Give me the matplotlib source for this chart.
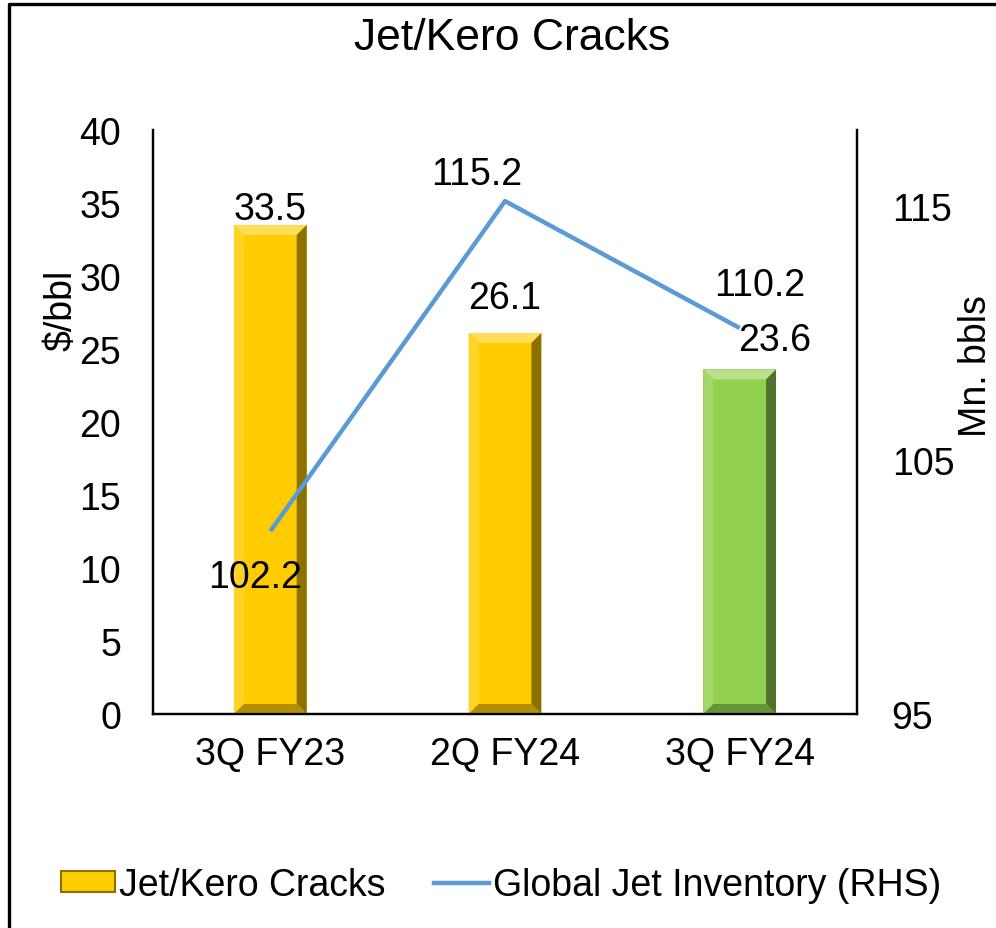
#!/usr/bin/env python3

import matplotlib
matplotlib.use("Agg")
import matplotlib.pyplot as plt
from matplotlib.patches import Polygon, Patch
from matplotlib.lines import Line2D
from matplotlib.transforms import IdentityTransform
import numpy as np

plt.rcParams['font.family'] = ['Liberation Sans', 'DejaVu Sans']

quarters = ["3Q FY23", "2Q FY24", "3Q FY24"]
cracks = [33.5, 26.1, 23.6]          # $/bbl, left axis
inventory = [102.2, 115.2, 110.2]    # Mn. bbls, right axis

# Colour palette (Excel-like)
gold = "#FFCC00"
green = "#92D050"
blue = "#5B9BD5"
bar_colors = [gold, gold, green]

# hand-placed label offsets in pixels (centre of text relative to anchor)
bar_label_offsets = [(0, 16), (0, 35), (35, 29)]
line_label_offsets = [(-15, -46), (-28, 27), (20, 43)]

FS = 27
PX = 0.72  # pixel -> point at dpi 100


def shade(c, f):
  """Lighten (f > 0) or darken (f < 0) a colour."""
  r = np.array(matplotlib.colors.to_rgb(c))
  if f > 0:
    return tuple(r + (1 - r) * f)
  return tuple(r * (1 + f))


def bevel(ax, rect, color, b=10):
  """Fake Excel bevel on a bar: four trapezoids along the edges."""
  (x0, y0), (x1, y1) = ax.transData.transform(
      [(rect.get_x(), rect.get_y()),
       (rect.get_x() + rect.get_width(), rect.get_y() + rect.get_height())])
  faces = [
      ([(x0, y1), (x1, y1), (x1 - b, y1 - b), (x0 + b, y1 - b)], 0.35),
      ([(x0, y0), (x0, y1), (x0 + b, y1 - b), (x0 + b, y0 + b)], 0.15),
      ([(x1, y0), (x1, y1), (x1 - b, y1 - b), (x1 - b, y0 + b)], -0.45),
      ([(x0, y0), (x1, y0), (x1 - b, y0 + b), (x0 + b, y0 + b)], -0.3),
  ]
  for pts, f in faces:
    ax.add_patch(Polygon(pts, closed=True, facecolor=shade(color, f),
                         edgecolor='none', transform=IdentityTransform(),
                         zorder=3))


fig = plt.figure(figsize=(9.96, 9.29), dpi=100)
ax = fig.add_axes([153 / 996, 1 - 715 / 929, 704 / 996, 584 / 929])
ax2 = ax.twinx()

x = np.arange(len(quarters))
bars = ax.bar(x, cracks, 0.31, color=bar_colors, zorder=2)
ax.set_xlim(-0.5, len(quarters) - 0.5)
ax.set_ylim(0, 40)
ax.set_yticks(range(0, 41, 5))
ax.set_xticks(x)
ax.set_xticklabels(quarters)

for rect, c in zip(bars, bar_colors):
  bevel(ax, rect, c)

for rect, v, (dx, dy) in zip(bars, cracks, bar_label_offsets):
  ax.annotate('{:.1f}'.format(v),
              xy=(rect.get_x() + rect.get_width() / 2, rect.get_height()),
              xytext=(dx * PX, dy * PX), textcoords="offset points",
              ha='center', va='center', fontsize=FS, zorder=5)

ax2.plot(x, inventory, color=blue, lw=3.2, solid_capstyle='butt')
ax2.set_ylim(95, 118)
ax2.set_yticks([95, 105, 115])
for xi, v, (dx, dy) in zip(x, inventory, line_label_offsets):
  ax2.annotate('{:.1f}'.format(v), xy=(xi, v),
               xytext=(dx * PX, dy * PX), textcoords="offset points",
               ha='center', va='center', fontsize=FS)

for a in (ax, ax2):
  a.tick_params(length=0, labelsize=FS)
  a.spines['top'].set_visible(False)
  for s in ('left', 'right', 'bottom'):
    a.spines[s].set_linewidth(1.6)
ax.tick_params(axis='y', pad=23)
ax.tick_params(axis='x', pad=16)
ax2.tick_params(axis='y', pad=25)

fig.text(62 / 996, 1 - 310 / 929, '$/bbl', rotation=90, fontsize=FS,
         ha='center', va='center')
fig.text(976 / 996, 1 - 366 / 929, 'Mn. bbls', rotation=90, fontsize=FS,
         ha='center', va='center')
fig.text(512 / 996, 1 - 39 / 929, 'Jet/Kero Cracks', fontsize=32,
         ha='center', va='center')

handles = [
    Patch(facecolor=gold, edgecolor=shade(gold, -0.45), linewidth=1.5),
    Line2D([], [], color=blue, lw=3.2),
]
fig.legend(handles, ['Jet/Kero Cracks', 'Global Jet Inventory (RHS)'],
           loc='center', bbox_to_anchor=(0.503, 1 - 886 / 929), ncol=2,
           frameon=False, fontsize=FS, handlelength=1.45, handleheight=0.5,
           handletextpad=0.1, columnspacing=1.3)

# chart-area border (only left and top visible in the crop)
fig.add_artist(Line2D([8.5 / 996, 8.5 / 996, 1], [0, 1 - 4.5 / 929, 1 - 4.5 / 929],
                      transform=fig.transFigure, color='black', lw=2.4))

fig.savefig("out.png", dpi=100)
